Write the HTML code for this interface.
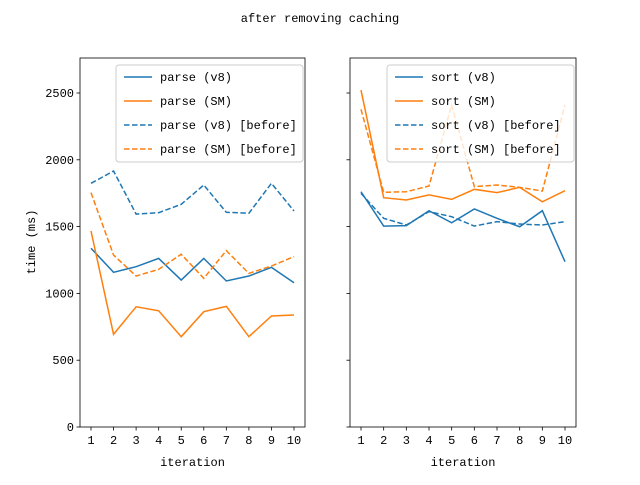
<!DOCTYPE html>
<html><head><meta charset="utf-8"><style>
body{margin:0;background:#fff}
svg text{font-family:"Liberation Mono","DejaVu Sans Mono",monospace;font-size:12px;fill:#000}
</style></head><body>
<svg id="c" width="640" height="480" xmlns="http://www.w3.org/2000/svg"></svg>
<script>
const iterations=[1,2,3,4,5,6,7,8,9,10];
const yTicks=[0,500,1000,1500,2000,2500];
const parseV8=[1338,1158,1200,1262,1100,1262,1093,1130,1195,1080];
const parseSM=[1467,694,900,870,676,863,903,676,831,838];
const parseV8Before=[1824,1916,1594,1604,1667,1811,1607,1600,1824,1617];
const parseSMBefore=[1754,1287,1130,1180,1293,1113,1320,1150,1205,1275];
const sortV8=[1761,1504,1507,1619,1529,1632,1562,1499,1619,1237];
const sortSM=[2522,1716,1699,1737,1704,1779,1754,1794,1686,1769];
const sortV8Before=[1749,1562,1512,1612,1574,1504,1537,1519,1512,1537];
const sortSMBefore=[2378,1757,1761,1804,2410,1799,1811,1794,1766,2410];

const NS="http://www.w3.org/2000/svg";
const svg=document.getElementById('c');
function mk(tag,attrs,parent){const e=document.createElementNS(NS,tag);for(const k in attrs)e.setAttribute(k,attrs[k]);(parent||svg).appendChild(e);return e;}
const yTop=58,yBot=427;
const y=v=>427-v*0.1336;
const t=mk('text',{x:320,y:22,'text-anchor':'middle','font-size':'13'});


t.textContent='after removing caching';

function panel(name,x0,x1,series,labels,showY){
  const g=mk('g',{});
  
  
  const xs=i=>x0+11+(i-1)*(x1-x0-22)/9;
  series.forEach((s,k)=>{
    const pts=s.data.map((v,i)=>xs(iterations[i])+','+y(v)).join(' ');
    const pl=mk('polyline',{points:pts,fill:'none',stroke:s.c,'stroke-width':1.5,'stroke-dasharray':s.d?'5.5,2.5':'none'},g);
    
    
  });
  const fr=mk('rect',{x:x0,y:yTop,width:x1-x0,height:yBot-yTop,fill:'none',stroke:'#000','stroke-width':0.8},g);
  
  
  iterations.forEach(it=>{
    mk('line',{x1:xs(it),x2:xs(it),y1:yBot,y2:yBot+3.5,stroke:'#000','stroke-width':0.8},g);
    const tx=mk('text',{x:xs(it),y:yBot+17,'text-anchor':'middle'},g);
    
    
    tx.textContent=it;
  });
  yTicks.forEach(v=>{
    mk('line',{x1:x0-3.5,x2:x0,y1:y(v),y2:y(v),stroke:'#000','stroke-width':0.8},g);
    if(showY){const tx=mk('text',{x:x0-6,y:y(v)+4,'text-anchor':'end'},g);
    
    
    tx.textContent=v;}
  });
  const xl=mk('text',{x:(x0+x1)/2,y:466,'text-anchor':'middle'},g);
  
  
  xl.textContent='iteration';
  // legend
  const lx=x1-189,ly=65;
  const lg=mk('g',{},g);
  
  
  mk('rect',{x:lx,y:ly,width:187,height:97,rx:3,fill:'#fff','fill-opacity':0.8,stroke:'#ccc','stroke-width':1},lg);
  series.forEach((s,k)=>{
    const yy=ly+12+k*24;
    mk('line',{x1:lx+8,x2:lx+36,y1:yy,y2:yy,stroke:s.c,'stroke-width':1.5,'stroke-dasharray':s.d?'5.5,2.5':'none'},lg);
    const tx=mk('text',{x:lx+44,y:yy+4},lg);
    
    
    tx.textContent=labels[k];
  });
}
const B='#1f77b4',O='#ff7f0e';
panel('parse',80,305,[{data:parseV8,c:B},{data:parseSM,c:O},{data:parseV8Before,c:B,d:1},{data:parseSMBefore,c:O,d:1}],
 ['parse (v8)','parse (SM)','parse (v8) [before]','parse (SM) [before]'],true);
panel('sort',350,576,[{data:sortV8,c:B},{data:sortSM,c:O},{data:sortV8Before,c:B,d:1},{data:sortSMBefore,c:O,d:1}],
 ['sort (v8)','sort (SM)','sort (v8) [before]','sort (SM) [before]'],false);
const yl=mk('text',{x:0,y:0,'text-anchor':'middle',transform:'translate(35,242) rotate(-90)'});


yl.textContent='time (ms)';
</script>
</body></html>
